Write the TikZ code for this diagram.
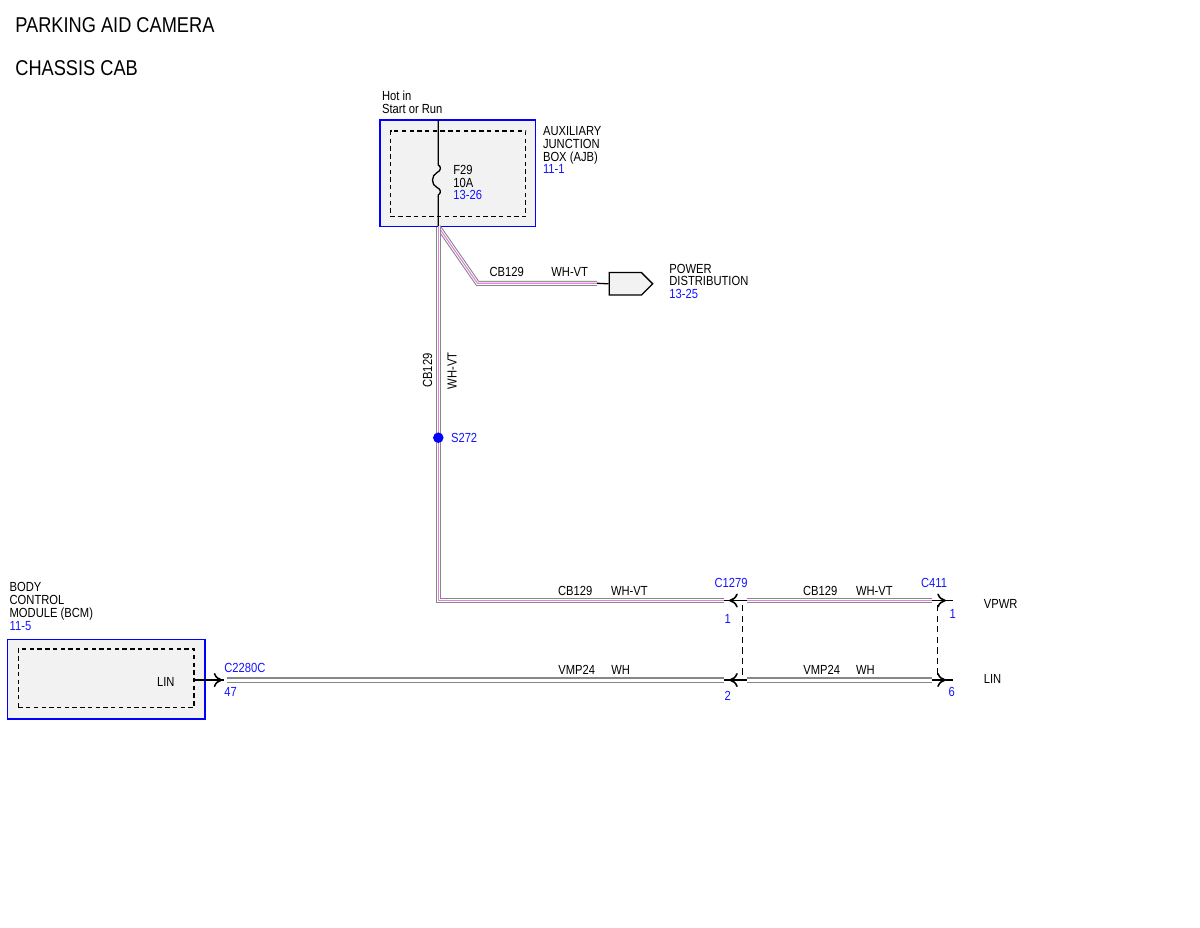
\documentclass[tikz,border=0pt]{standalone}
\usepackage{fontspec}
\setmainfont[FakeStretch=0.85]{Liberation Sans}
\usetikzlibrary{positioning}
\usetikzlibrary{arrows.meta,shapes.symbols}
\definecolor{wiregray}{RGB}{135,135,135}
\definecolor{wirepink}{RGB}{228,130,228}
\definecolor{refblue}{RGB}{20,20,255}
\tikzset{chev/.style = {-{To[length=5pt,width=8pt]}, line width=0.9pt}}

\begin{document}
\begin{tikzpicture}[x=0.02cm, y=-0.02cm, font=\fontsize{7.5}{7.2}\selectfont,
  lbl/.style={inner sep=0pt, anchor=base west},
  ref/.style={lbl, text=refblue},
  block/.style={inner sep=0pt, anchor=north west, align=left},
  module/.style={draw=blue, fill=gray!10, line width=0.9pt, inner sep=0pt},
  inbox/.style={draw, dash pattern=on 2.5pt off 1.9pt, line width=0.7pt, inner sep=0pt},
  wvt/.style={preaction={draw=wiregray, line width=2.9pt}, preaction={draw=white, line width=1.7pt}, draw=wirepink, line width=0.65pt},
  wwh/.style={preaction={draw=wiregray, line width=2.9pt}, draw=white, line width=1.7pt},
  pin/.style={line width=0.75pt},
  link/.style={line width=0.75pt, dash pattern=on 3.6pt off 2.4pt}]
\useasboundingbox (0,0) rectangle (1200,927);

\node[lbl, font=\fontsize{12.2}{14}\selectfont] (title) at (15,32.7) {PARKING AID CAMERA};
\node[lbl, font=\fontsize{12.2}{14}\selectfont] (sub) at (15,75.3) {CHASSIS CAB};

\node[module, minimum width=3.114cm, minimum height=2.134cm] (ajb) at (457.85,173.35) {};
\node[inbox, minimum width=2.7cm, minimum height=1.714cm] (ajbin) at (458.2,173.85) {};
\node[block] (hot) at (381.7,90.8) {Hot in\\Start or Run};
\node[block] (ajbname) at (542.7,126.4) {AUXILIARY\\JUNCTION\\BOX (AJB)\\\textcolor{refblue}{11-1}};
\node[block] (f29) at (453,165) {F29\\10A\\\textcolor{refblue}{13-26}};

\coordinate (ftop) at (438.3,120);
\coordinate (fbot) at (438.3,226.7);
\draw[pin] (ftop) -- (438.3,165) .. controls (441.5,166.5) and (441,171) .. (437,172.5)
  .. controls (431,175.5) and (431,185) .. (437,187.5)
  .. controls (441,189) and (441.5,193) .. (438.3,195) -- (fbot);

\node[draw, fill=gray!10, signal, signal to=east, minimum width=0.87cm, minimum height=0.45cm,
  inner sep=0pt, line width=0.75pt, anchor=west] (pd) at (608.5,283.8) {};
\node[block] (pdname) at (669,263.6) {POWER\\DISTRIBUTION\\\textcolor{refblue}{13-25}};

\coordinate (kink) at (477.5,283.3);
\coordinate (pdend) at (597,283.3);
\draw[wvt] (fbot) -- (kink) -- (pdend);
\draw[pin] (pdend) -- (pd.west);
\node[lbl] (cb1) at (489.3,276.7) {CB129};
\node[lbl] (wv1) at (551,276.7) {WH-VT};

\coordinate (sp) at (438.3,437.7);
\coordinate (bend) at (438.3,600.5);
\coordinate (c1279a) at (724,600.5);
\draw[wvt] (fbot) -- (sp) -- (bend) -- (c1279a);
\node[lbl, rotate=90, anchor=base east] (cb2) at (432,353) {CB129};
\node[lbl, rotate=90, anchor=base east] (wv2) at (456.5,352) {WH-VT};
\node[circle, fill=blue, inner sep=0pt, minimum size=0.21cm] (s272) at (sp) {};
\node[ref] (s272lbl) at (450.7,442.7) {S272};
\node[lbl] (cb3) at (557.7,595.5) {CB129};
\node[lbl] (wv3) at (610.7,595.5) {WH-VT};

\coordinate (c1279b) at (746.5,600.5);
\coordinate (c411a) at (931.5,600.5);
\coordinate (c411b) at (953.3,600.5);
\draw[pin] (c1279a) -- (c1279b);
\draw[chev] (741,600.5) -- (729,600.5);
\draw[wvt] (c1279b) -- (c411a);
\draw[pin] (c411a) -- (c411b);
\draw[chev] (934,600.5) -- (946,600.5);
\node[lbl] (cb4) at (802.7,595.5) {CB129};
\node[lbl] (wv4) at (855.7,595.5) {WH-VT};
\node[ref] (c1279) at (714.3,587) {C1279};
\node[ref] (c411) at (920.7,587) {C411};
\node[ref] (p1a) at (724.3,623) {1};
\node[ref] (p1b) at (949.3,618.3) {1};
\node[lbl] (vpwr) at (983.5,608) {VPWR};

\node[module, minimum width=3.954cm, minimum height=1.594cm] (bcm) at (106.15,679.15) {};
\node[inbox, minimum width=3.514cm, minimum height=1.174cm] (bcmin) at (106.15,678.35) {};
\node[lbl] (lin1) at (156.7,686) {LIN};
\node[block, font=\fontsize{7.5}{7.55}\selectfont] (bcmname) at (9.3,581.6) {BODY\\CONTROL\\MODULE (BCM)\\\textcolor{refblue}{11-5}};

\coordinate (c2280) at (226.5,680);
\coordinate (c1279c) at (724,680);
\coordinate (c1279d) at (746.5,680);
\coordinate (c411c) at (931.5,680);
\coordinate (c411d) at (953.3,680);
\draw[pin] (bcmin.east |- c2280) -- (224,680);
\draw[chev] (210,680) -- (222.5,680);
\draw[wwh] (c2280) -- (c1279c);
\draw[pin] (c1279c) -- (c1279d);
\draw[chev] (741,680) -- (729,680);
\draw[wwh] (c1279d) -- (c411c);
\draw[pin] (c411c) -- (c411d);
\draw[chev] (934,680) -- (946,680);
\node[ref] (c2280c) at (224,672) {C2280C};
\node[ref] (p47) at (224,696.7) {47};
\node[lbl] (vm1) at (558,674.5) {VMP24};
\node[lbl] (wh1) at (611,674.5) {WH};
\node[lbl] (vm2) at (803,674.5) {VMP24};
\node[lbl] (wh2) at (855.7,674.5) {WH};
\node[ref] (p2) at (724.3,700) {2};
\node[ref] (p6) at (948.3,696.7) {6};
\node[lbl] (lin2) at (983.5,683.5) {LIN};

\coordinate (c1279t) at (742.7,605);
\coordinate (c1279u) at (742.7,675);
\coordinate (c411t) at (937.3,605);
\coordinate (c411u) at (937.3,675);
\draw[link] (c1279t) -- (c1279u);
\draw[link] (c411t) -- (c411u);
\end{tikzpicture}
\end{document}
